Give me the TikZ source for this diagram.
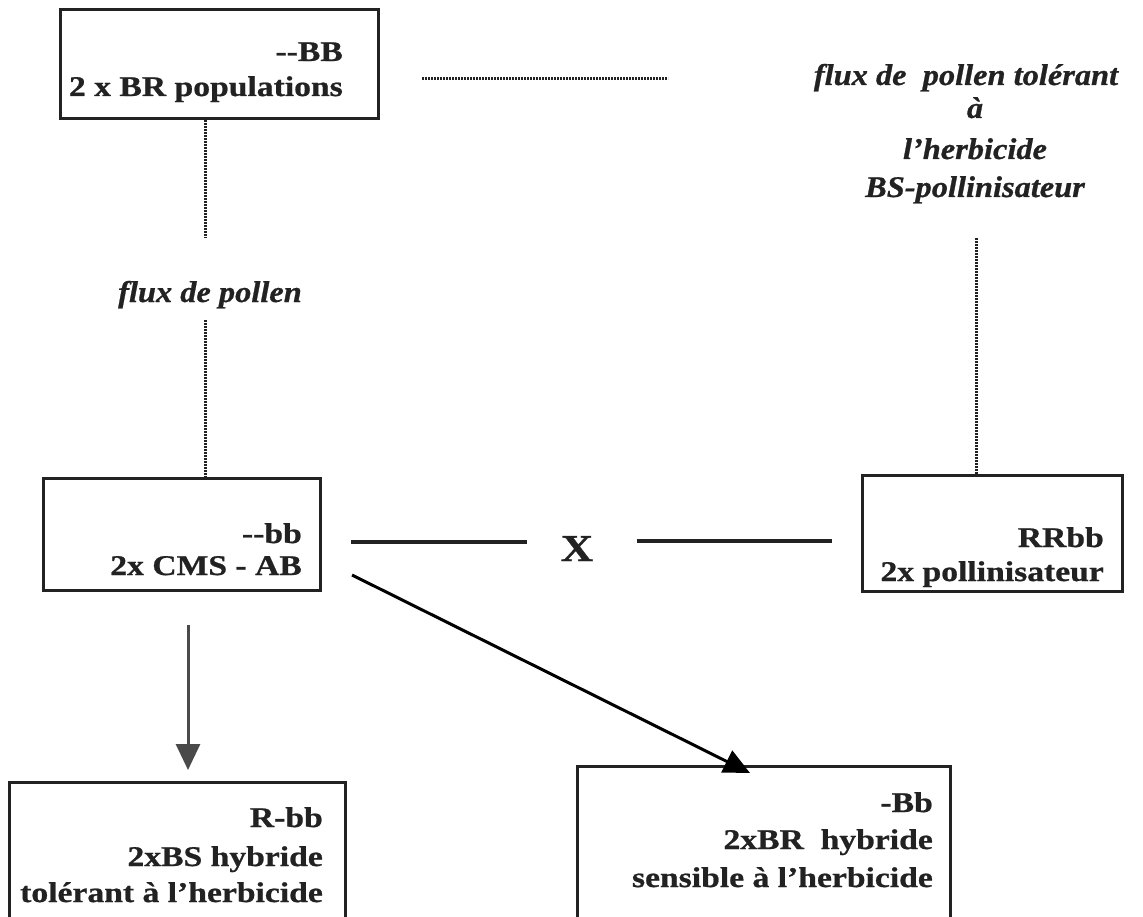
\documentclass[tikz,border=0pt]{standalone}
\usepackage{fontspec}
\setmainfont{Liberation Serif}[FakeStretch=1.18, BoldFeatures={FakeBold=0.8}]
\newfontfamily\itfont{Liberation Serif}[FakeStretch=1.08, BoldItalicFeatures={FakeBold=0.8}]
\usetikzlibrary{arrows.meta}
\definecolor{ink}{HTML}{222222}
\definecolor{greyarrow}{HTML}{4A4A4A}
\tikzset{
  x=1pt, y=-1pt,
  box/.style={draw=ink, line width=3pt, inner sep=0pt, rectangle},
  lbl/.style={anchor=base east, inner sep=0pt, text=ink, font=\fontsize{28.5}{32}\selectfont\bfseries},
  itl/.style={anchor=base, inner sep=0pt, text=ink, font=\itfont\fontsize{30}{36}\selectfont\bfseries\itshape},
  dotline/.style={draw=ink, line width=3pt, dash pattern=on 2pt off 1pt},
  solidline/.style={draw=ink, line width=3.2pt},
}
\begin{document}
\begin{tikzpicture}
\useasboundingbox (0,0) rectangle (1143,917);
\clip (0,0) rectangle (1143,917);
\fill[white] (0,0) rectangle (1143,917);

% boxes
\node[box, minimum width=318pt, minimum height=109pt] (bA) at (219,64.5) {};
\node[box, minimum width=277pt, minimum height=112pt] (bC) at (181.5,534) {};
\node[box, minimum width=260pt, minimum height=116pt] (bR) at (992.5,533) {};
\node[box, minimum width=336pt, minimum height=200pt] (bT) at (177,882) {};
\node[box, minimum width=373pt, minimum height=200pt] (bS) at (763.5,866) {};

% box texts
\node[lbl] (tA1) at (343,61) {-{}-BB};
\node[lbl] (tA2) at (343,96) {2 x BR populations};
\node[lbl] (tC1) at (302,543) {-{}-bb};
\node[lbl] (tC2) at (302,575) {2x CMS - AB};
\node[lbl] (tR1) at (1104,547) {RRbb};
\node[lbl] (tR2) at (1104,581) {2x pollinisateur};
\node[lbl] (tT1) at (323,827) {R-bb};
\node[lbl] (tT2) at (323,866) {2xBS hybride};
\node[lbl] (tT3) at (323,902) {tolérant à l’herbicide};
\node[lbl] (tS1) at (933,812) {-Bb};
\node[lbl] (tS2) at (933,849) {2xBR\ \ hybride};
\node[lbl] (tS3) at (933,887) {sensible à l’herbicide};

% italic labels
\node[itl] (fl) at (210,302) {flux de pollen};
\node[itl] (fr1) at (966,85) {flux de\ \ pollen tolérant};
\node[itl] (fr2) at (975,118) {à};
\node[itl] (fr3) at (975,159) {l’herbicide};
\node[itl] (fr4) at (975,197) {BS-pollinisateur};

% cross sign
\node[anchor=base, inner sep=0pt, text=ink, font=\fontsize{38}{40}\selectfont\bfseries] (X) at (577,561) {X};

% dotted connectors
\coordinate (l1) at (205,238);
\coordinate (l2) at (205,320);
\coordinate (r1) at (976,238);
\coordinate (h1) at (422,79);
\coordinate (h2) at (668,79);
\draw[dotline] (bA.south -| l1) -- (l1);
\draw[dotline] (l2) -- (bC.north -| l2);
\draw[dotline] (r1) -- (bR.north -| r1);
\draw[dotline] (h1) -- (h2);

% cross lines
\coordinate (c1) at (351,542);
\coordinate (c2) at (527,542);
\coordinate (c3) at (637,541);
\coordinate (c4) at (832,541);
\draw[solidline] (c1) -- (c2);
\draw[solidline] (c3) -- (c4);

% arrows
\coordinate (a1) at (188,625);
\coordinate (a2) at (188,770);
\draw[draw=greyarrow, line width=3pt, -{Triangle[length=26pt, width=24pt]}, color=greyarrow] (a1) -- (a2);
\coordinate (d1) at (352,575);
\coordinate (d2) at (750,773);
\draw[draw=black, line width=3pt, -{Triangle[length=26pt, width=24pt]}] (d1) -- (d2);
\end{tikzpicture}
\end{document}
